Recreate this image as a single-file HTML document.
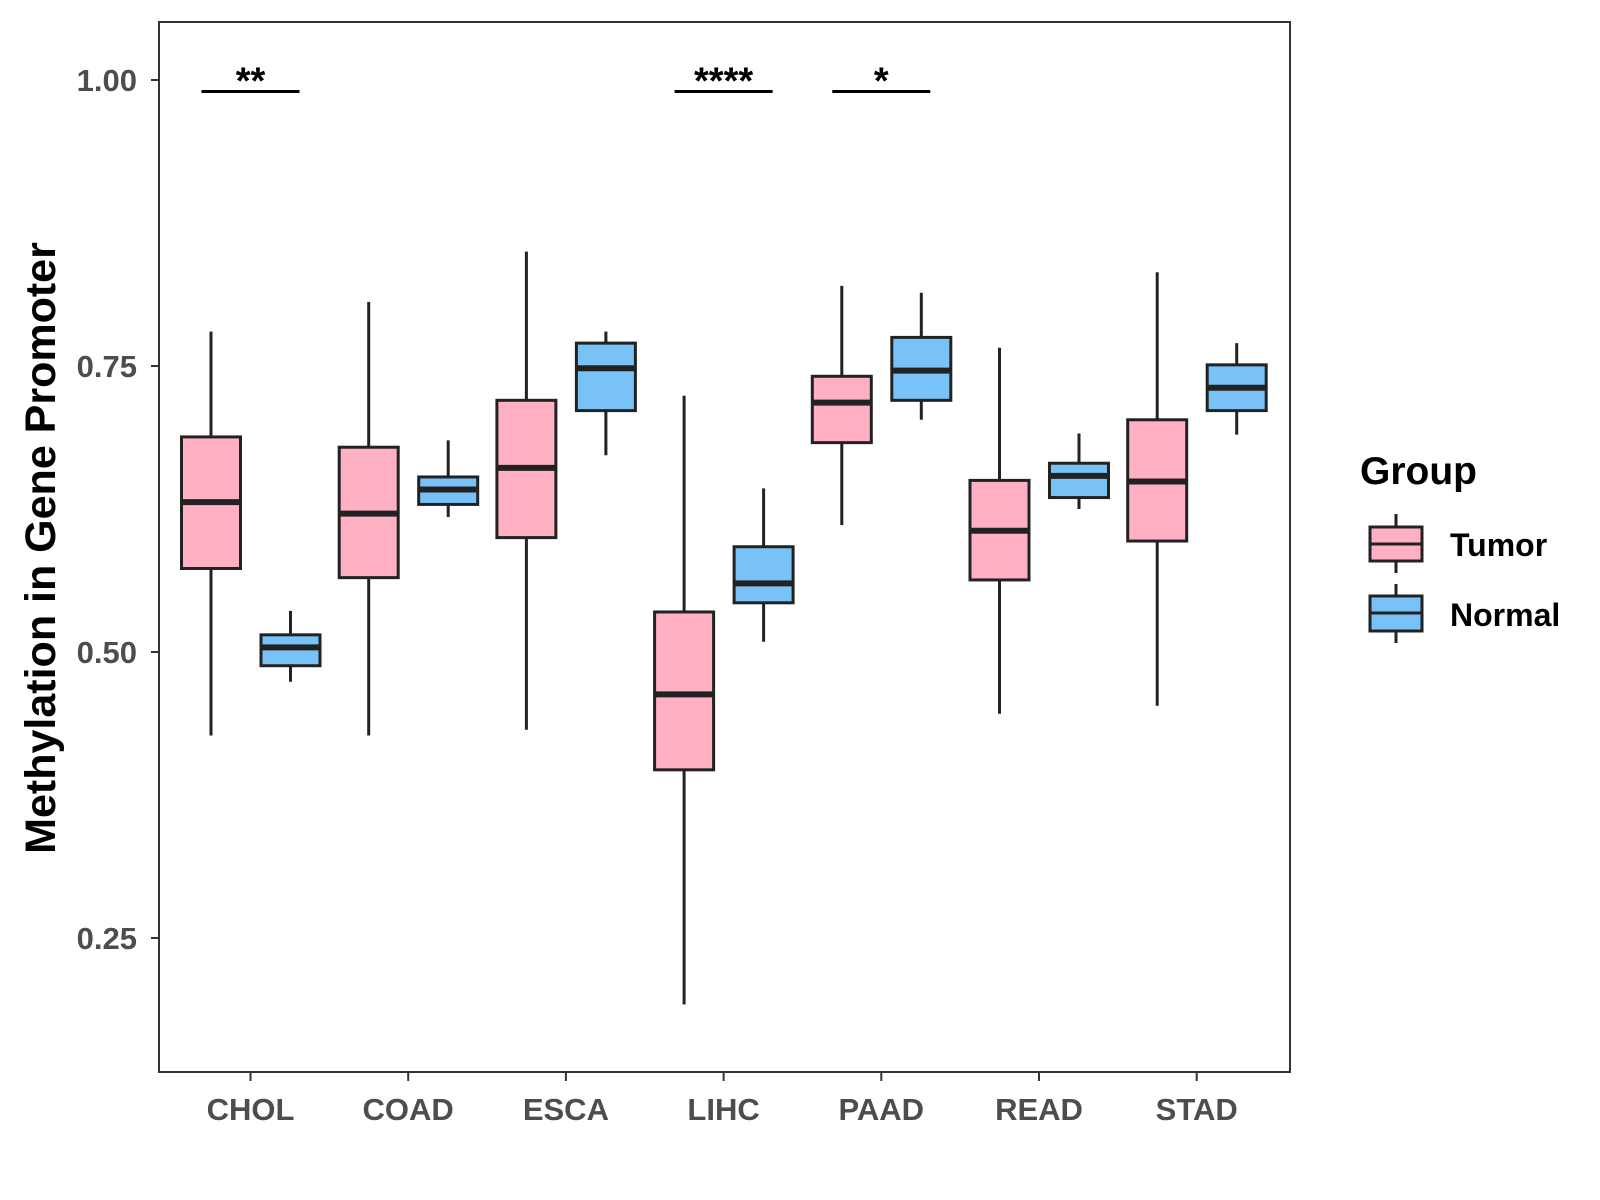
<!DOCTYPE html>
<html><head><meta charset="utf-8"><style>
body{margin:0;background:#fff}
svg{display:block;font-family:"Liberation Sans",Arial,sans-serif}
</style></head><body>
<svg id="chart" width="1600" height="1200" viewBox="0 0 1600 1200" xmlns="http://www.w3.org/2000/svg">
<rect x="0" y="0" width="1600" height="1200" fill="#fff"/>
<g id="plot"></g>
<text transform="translate(55,548) rotate(-90)" text-anchor="middle" font-size="43" font-weight="bold" fill="#000">Methylation in Gene Promoter</text>
<g>
<text x="1360" y="484" font-size="39" font-weight="bold">Group</text>
<g>
<line x1="1396" y1="514" x2="1396" y2="573" stroke="#222" stroke-width="3"/>
<rect x="1370" y="527" width="52" height="34" fill="#FFB0C3" stroke="#222" stroke-width="3"/>
<line x1="1370" y1="544" x2="1422" y2="544" stroke="#222" stroke-width="3"/>
<text x="1450" y="556" font-size="32" font-weight="bold">Tumor</text></g>
<g>
<line x1="1396" y1="584" x2="1396" y2="643" stroke="#222" stroke-width="3"/>
<rect x="1370" y="596" width="52" height="35" fill="#79C2F8" stroke="#222" stroke-width="3"/>
<line x1="1370" y1="613" x2="1422" y2="613" stroke="#222" stroke-width="3"/>
<text x="1450" y="626" font-size="32" font-weight="bold">Normal</text></g>
</g>
</svg>
<script>
const categories=["CHOL","COAD","ESCA","LIHC","PAAD","READ","STAD"];
// [lowWhisker, q1, median, q3, highWhisker]
const tumorStats=[[0.427,0.573,0.631,0.688,0.780],[0.427,0.565,0.621,0.679,0.806],[0.432,0.600,0.661,0.720,0.850],[0.192,0.397,0.463,0.535,0.724],[0.611,0.683,0.718,0.741,0.820],[0.446,0.563,0.606,0.650,0.766],[0.453,0.597,0.649,0.703,0.832]];
const normalStats=[[0.474,0.488,0.504,0.515,0.536],[0.618,0.629,0.642,0.653,0.685],[0.672,0.711,0.748,0.770,0.780],[0.509,0.543,0.560,0.592,0.643],[0.703,0.720,0.746,0.775,0.814],[0.625,0.635,0.654,0.665,0.691],[0.690,0.711,0.731,0.751,0.770]];
const yTicks=[0.25,0.50,0.75,1.00];
const yTickLabels=["0.25","0.50","0.75","1.00"];
const sigCategories=["CHOL","LIHC","PAAD"];
const sigLabels=["**","****","*"];
const sigLevel=0.99;

const P={l:159,r:1294,t:22,b:1075};
const y=v=>652-(v-0.5)*1144;
const x=i=>250.5+i*157.7;
const NS="http://www.w3.org/2000/svg";
const g=document.getElementById('plot');
function mk(t,a,parent){const e=document.createElementNS(NS,t);for(const k in a)e.setAttribute(k,a[k]);(parent||g).appendChild(e);return e;}
const panel=mk('rect',{x:P.l,y:P.t,width:P.r-P.l-4,height:P.b-P.t-3,fill:'none',stroke:'#333','stroke-width':2});


const yb=P.b-3;
yTicks.forEach((v,i)=>{
  const tk=mk('line',{x1:P.l-8,x2:P.l,y1:y(v),y2:y(v),stroke:'#333','stroke-width':2});
  
  
  const t=mk('text',{x:P.l-22,y:y(v)+11,'text-anchor':'end','font-size':31,'font-weight':'bold',fill:'#4d4d4d'});
  t.textContent=yTickLabels[i];
  
  
});
categories.forEach((c,i)=>{
  const tk=mk('line',{x1:x(i),x2:x(i),y1:yb,y2:yb+9,stroke:'#333','stroke-width':2});
  
  
  const t=mk('text',{x:x(i),y:1120,'text-anchor':'middle','font-size':31,'font-weight':'bold',fill:'#4d4d4d'});
  t.textContent=c;
  
  
});
function box(s,cx,fill,name){
  const grp=mk('g',{});
  
  
  const w=59;
  mk('line',{x1:cx,x2:cx,y1:y(s[0]),y2:y(s[4]),stroke:'#222','stroke-width':3},grp);
  mk('rect',{x:cx-w/2,y:y(s[3]),width:w,height:y(s[1])-y(s[3]),fill:fill,stroke:'#222','stroke-width':3},grp);
  mk('line',{x1:cx-w/2,x2:cx+w/2,y1:y(s[2]),y2:y(s[2]),stroke:'#222','stroke-width':6},grp);
}
categories.forEach((c,i)=>{
  box(tumorStats[i],x(i)-39.5,'#FFB0C3','box-tumor-'+c.toLowerCase());
  box(normalStats[i],x(i)+40,'#79C2F8','box-normal-'+c.toLowerCase());
});
sigCategories.forEach((c,k)=>{
  const i=categories.indexOf(c);
  const ln=mk('line',{x1:x(i)-49,x2:x(i)+49,y1:y(sigLevel),y2:y(sigLevel),stroke:'#000','stroke-width':3});
  
  
  const t=mk('text',{x:x(i),y:y(sigLevel)+2,'text-anchor':'middle','font-size':38,'font-weight':'bold',fill:'#000'});
  t.textContent=sigLabels[k];
  
  
});
</script>
</body></html>
